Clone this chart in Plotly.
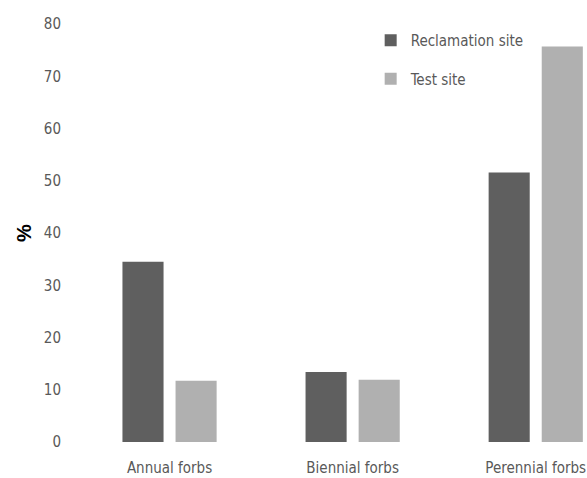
import plotly.graph_objects as go

categories = ["Annual forbs", "Biennial forbs", "Perennial forbs"]
reclamation = [34.5, 13.4, 51.6]
test_site = [11.7, 11.9, 75.7]
y_ticks = [0, 10, 20, 30, 40, 50, 60, 70, 80]

FONT = "DejaVu Sans Condensed, Liberation Sans Narrow, sans-serif"
TXT = "#595959"

fig = go.Figure()
fig.add_trace(go.Bar(
    x=categories, y=reclamation, name="Reclamation site",
    marker=dict(color="#5f5f5f", line=dict(width=0)),
    legendgroup="a",
))
fig.add_trace(go.Bar(
    x=categories, y=test_site, name="Test site",
    marker=dict(color="#b0b0b0", line=dict(width=0)),
    legendgroup="b",
))

# Axis title drawn as a rotated annotation sitting close to the tick labels
fig.add_annotation(
    text="<b>%</b>", xref="paper", yref="paper", x=-0.106, y=0.5,
    xanchor="center", yanchor="middle", textangle=-90, showarrow=False,
    font=dict(family="Liberation Sans, Arial, sans-serif", size=20, color="black"),
)

fig.update_layout(
    width=587, height=478,
    margin=dict(l=78, r=0, t=24, b=36),
    paper_bgcolor="white", plot_bgcolor="white",
    barmode="group", bargap=0.42, bargroupgap=0.226,
    font=dict(family=FONT, size=15, color=TXT),
    showlegend=True,
    legend=dict(
        x=0.575, y=1.0, xanchor="left", yanchor="top",
        bgcolor="rgba(0,0,0,0)", font=dict(family=FONT, size=15, color=TXT),
        tracegroupgap=16, itemwidth=30,
    ),
    xaxis=dict(
        range=[-0.5, 2.28], showgrid=False, showline=False, zeroline=False,
        ticks="", tickfont=dict(family=FONT, size=15, color=TXT),
        ticklabelstandoff=15,
    ),
    yaxis=dict(
        range=[0, 80], tickvals=y_ticks, showgrid=False, showline=False,
        zeroline=False, ticks="", ticklabelstandoff=16,
        tickfont=dict(family=FONT, size=15, color=TXT),
    ),
)

fig.write_html("out.html")
